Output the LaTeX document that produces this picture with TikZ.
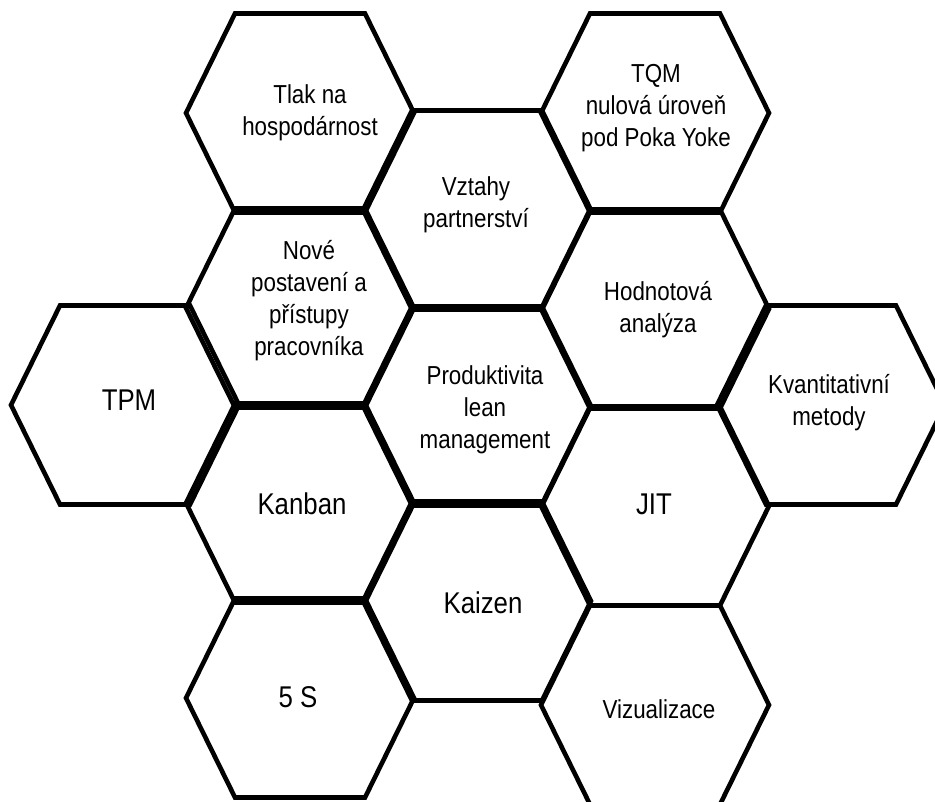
\documentclass[tikz,border=0pt]{standalone}
\usepackage{fontspec}
\setmainfont{Liberation Sans}[FakeStretch=0.86]
\usepackage{tikz}

\tikzset{
  hexline/.style={line width=4.6pt, line join=miter},
  hexlabel/.style={align=center, font=\fontsize{26}{32}\selectfont},
  hexbig/.style={align=center, font=\fontsize{30}{36}\selectfont}
}

\begin{document}
\begin{tikzpicture}[x=1pt,y=-1pt]
\useasboundingbox (0,0) rectangle (935,802);
% honeycomb cells
\foreach \x/\y in {300/113,655/113,477/210,300/308,125/405,655/309,477/406,831/405,300/503,655/506,477/601,300/698,655/705}
\draw[hexline, shift={(\x,\y)}] (-114,0) -- (-65,-99.5) -- (65,-99.5) -- (114,0) -- (65,99.5) -- (-65,99.5) -- cycle;
% labels
\node[hexlabel] (tlak) at (310,113) {Tlak na\\hospodárnost};
\node[hexlabel] (tqm) at (656,108) {TQM\\nulová úroveň\\pod Poka Yoke};
\node[hexlabel] (vztahy) at (476,205) {Vztahy\\partnerství};
\node[hexlabel] (nove) at (309,301) {Nové\\postavení a\\přístupy\\pracovníka};
\node[hexbig] (tpm) at (129,400) {TPM};
\node[hexlabel] (hodnota) at (658,310) {Hodnotová\\analýza};
\node[hexlabel] (produktivita) at (485,410) {Produktivita\\lean\\management};
\node[hexlabel] (kvant) at (829,403) {Kvantitativní\\metody};
\node[hexbig] (kanban) at (302,504) {Kanban};
\node[hexbig] (jit) at (654,504) {JIT};
\node[hexbig] (kaizen) at (483,603) {Kaizen};
\node[hexbig] (pet) at (298,697) {5 S};
\node[hexlabel] (vizual) at (659,709) {Vizualizace};
\end{tikzpicture}
\end{document}
